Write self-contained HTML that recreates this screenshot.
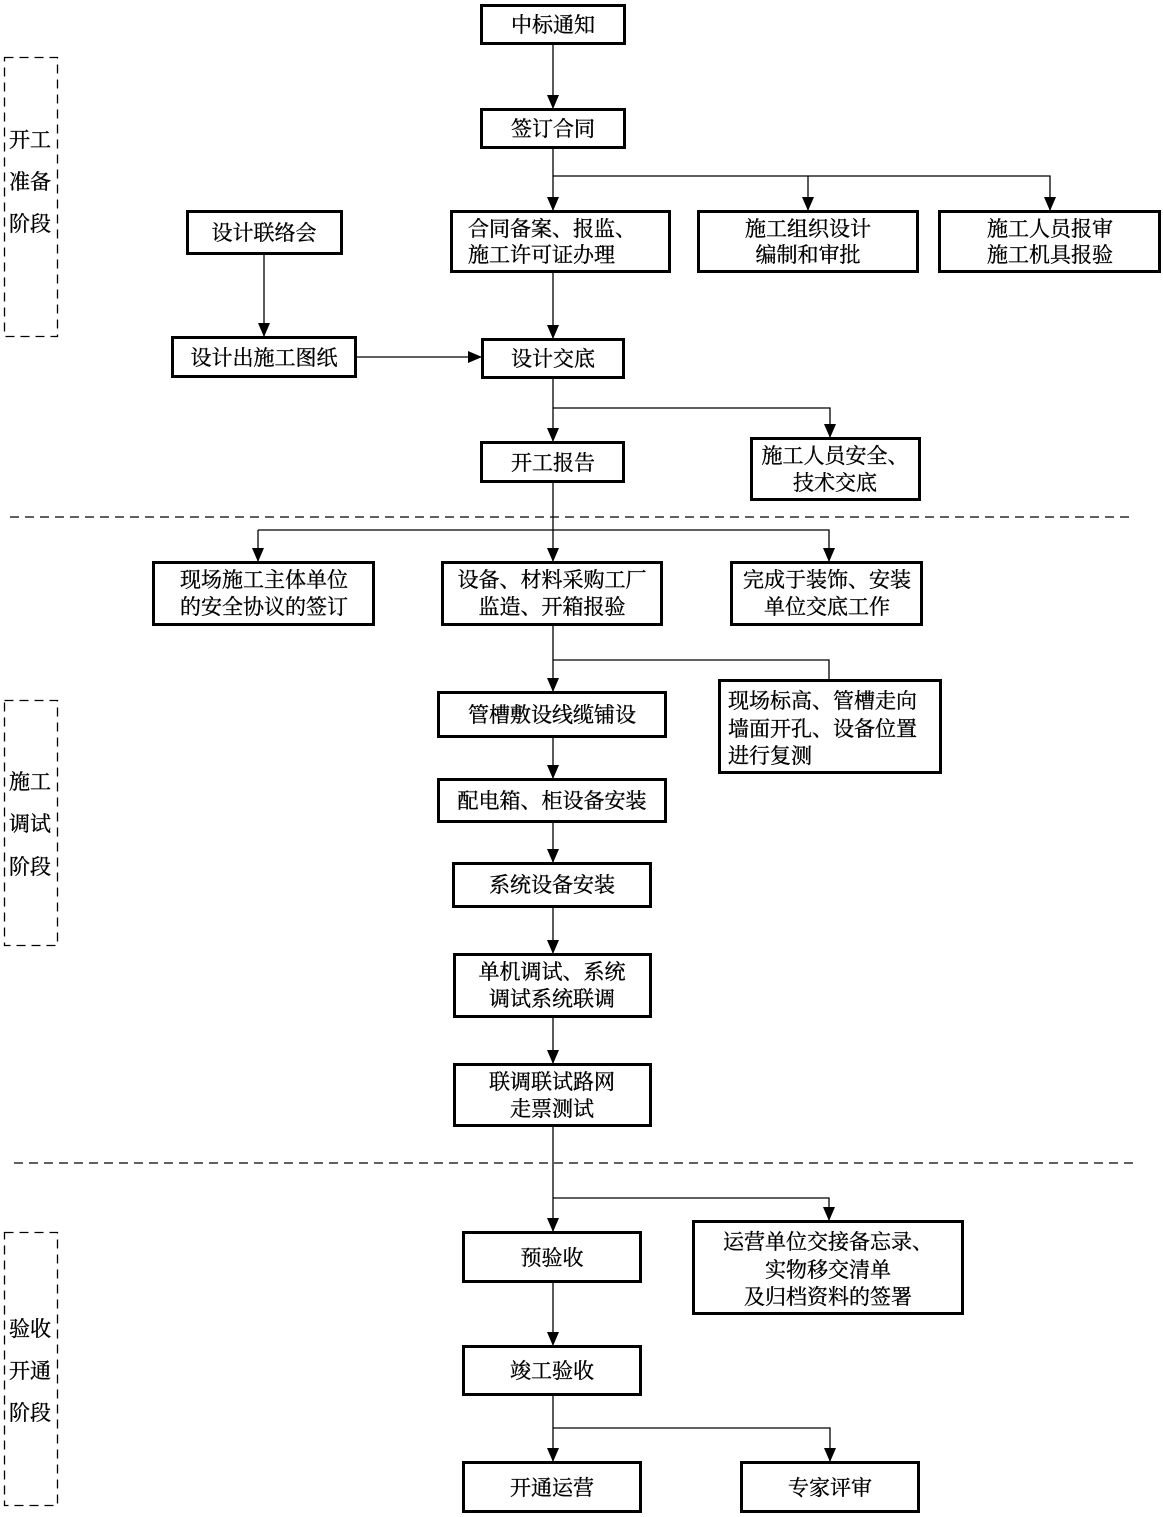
<!DOCTYPE html>
<html><head><meta charset="utf-8"><style>
html,body{margin:0;padding:0;background:#fff;}
svg{display:block;}
text{font-family:"Liberation Serif","Noto Serif CJK SC","Noto Sans CJK SC",serif;font-size:21px;fill:#000;stroke:#000;stroke-width:0.35;}
.b{fill:#fff;stroke:#000;stroke-width:3;}
.l{stroke:#000;stroke-width:1.3;fill:none;}
.d{stroke:#000;stroke-width:1.3;fill:none;stroke-dasharray:9,6;}
</style></head><body>
<svg width="1163" height="1517" viewBox="0 0 1163 1517" xmlns="http://www.w3.org/2000/svg">
<defs>
<marker id="a" markerWidth="14" markerHeight="12" refX="13" refY="6" orient="auto" markerUnits="userSpaceOnUse" viewBox="0 0 14 12"><path d="M0,0 L14,6 L0,12 Z" fill="#000" stroke="none"/></marker>
</defs>

<rect class="d" x="4.5" y="57.5" width="53" height="279"/>
<rect class="d" x="4.5" y="700.5" width="53" height="245"/>
<rect class="d" x="4.5" y="1232.5" width="53" height="273"/>
<text x="9" y="147">开工</text><text x="9" y="189">准备</text><text x="9" y="231">阶段</text>
<text x="9" y="789">施工</text><text x="9" y="831">调试</text><text x="9" y="874">阶段</text>
<text x="9" y="1336">验收</text><text x="9" y="1378">开通</text><text x="9" y="1420">阶段</text>

<line class="d" x1="10" y1="517" x2="1135" y2="517"/>
<line class="d" x1="14" y1="1163" x2="1135" y2="1163"/>

<g class="l">
<line x1="553" y1="44" x2="553" y2="108" marker-end="url(#a)"/>
<line x1="553" y1="148" x2="553" y2="210" marker-end="url(#a)"/>
<polyline points="553,176 1050,176 1050,210" marker-end="url(#a)"/>
<line x1="808" y1="176" x2="808" y2="210" marker-end="url(#a)"/>
<line x1="553" y1="272" x2="553" y2="338" marker-end="url(#a)"/>
<line x1="264" y1="254" x2="264" y2="336" marker-end="url(#a)"/>
<line x1="356" y1="357" x2="481" y2="357" marker-end="url(#a)"/>
<line x1="553" y1="378" x2="553" y2="441" marker-end="url(#a)"/>
<polyline points="553,408 830,408 830,437" marker-end="url(#a)"/>
<line x1="553" y1="482" x2="553" y2="561" marker-end="url(#a)"/>
<polyline points="258,530 829,530 829,561" marker-end="url(#a)"/>
<line x1="258" y1="530" x2="258" y2="561" marker-end="url(#a)"/>
<line x1="553" y1="625" x2="553" y2="691" marker-end="url(#a)"/>
<polyline points="553,660 829,660 829,680"/>
<line x1="553" y1="737" x2="553" y2="778" marker-end="url(#a)"/>
<line x1="553" y1="822" x2="553" y2="862" marker-end="url(#a)"/>
<line x1="553" y1="907" x2="553" y2="953" marker-end="url(#a)"/>
<line x1="553" y1="1017" x2="553" y2="1063" marker-end="url(#a)"/>
<line x1="553" y1="1126" x2="553" y2="1231" marker-end="url(#a)"/>
<polyline points="553,1198 829,1198 829,1220" marker-end="url(#a)"/>
<line x1="553" y1="1282" x2="553" y2="1345" marker-end="url(#a)"/>
<line x1="553" y1="1395" x2="553" y2="1461" marker-end="url(#a)"/>
<polyline points="553,1428 830,1428 830,1461" marker-end="url(#a)"/>
</g>

<rect class="b" x="481.5" y="5.5" width="143" height="38"/>
<text x="553" y="32" text-anchor="middle">中标通知</text>
<rect class="b" x="481.5" y="109.5" width="143" height="38"/>
<text x="553" y="136" text-anchor="middle">签订合同</text>
<rect class="b" x="451.5" y="211.5" width="218" height="60"/>
<text x="468" y="236">合同备案、报监、</text><text x="468" y="262">施工许可证办理</text>
<rect class="b" x="698.5" y="211.5" width="219" height="60"/>
<text x="808" y="236" text-anchor="middle">施工组织设计</text><text x="808" y="262" text-anchor="middle">编制和审批</text>
<rect class="b" x="939.5" y="211.5" width="220" height="60"/>
<text x="1050" y="236" text-anchor="middle">施工人员报审</text><text x="1050" y="262" text-anchor="middle">施工机具报验</text>
<rect class="b" x="187.5" y="211.5" width="154" height="42"/>
<text x="264" y="240" text-anchor="middle">设计联络会</text>
<rect class="b" x="172.5" y="337.5" width="183" height="39"/>
<text x="264" y="365" text-anchor="middle">设计出施工图纸</text>
<rect class="b" x="482.5" y="339.5" width="141" height="38"/>
<text x="553" y="366" text-anchor="middle">设计交底</text>
<rect class="b" x="481.5" y="442.5" width="142" height="39"/>
<text x="553" y="470" text-anchor="middle">开工报告</text>
<rect class="b" x="751.5" y="438.5" width="168" height="61"/>
<text x="835" y="463" text-anchor="middle">施工人员安全、</text><text x="835" y="490" text-anchor="middle">技术交底</text>
<rect class="b" x="153.5" y="562.5" width="220" height="62"/>
<text x="264" y="587" text-anchor="middle">现场施工主体单位</text><text x="264" y="614" text-anchor="middle">的安全协议的签订</text>
<rect class="b" x="442.5" y="562.5" width="219" height="62"/>
<text x="552" y="587" text-anchor="middle">设备、材料采购工厂</text><text x="552" y="614" text-anchor="middle">监造、开箱报验</text>
<rect class="b" x="731.5" y="562.5" width="190" height="62"/>
<text x="827" y="587" text-anchor="middle">完成于装饰、安装</text><text x="827" y="614" text-anchor="middle">单位交底工作</text>
<rect class="b" x="438.5" y="692.5" width="227" height="44"/>
<text x="552" y="722" text-anchor="middle">管槽敷设线缆铺设</text>
<rect class="b" x="719.5" y="680.5" width="221" height="92"/>
<text x="728" y="708">现场标高、管槽走向</text><text x="728" y="736">墙面开孔、设备位置</text><text x="728" y="763">进行复测</text>
<rect class="b" x="438.5" y="779.5" width="227" height="42"/>
<text x="552" y="808" text-anchor="middle">配电箱、柜设备安装</text>
<rect class="b" x="453.5" y="863.5" width="197" height="43"/>
<text x="552" y="892" text-anchor="middle">系统设备安装</text>
<rect class="b" x="454.5" y="954.5" width="196" height="62"/>
<text x="552" y="979" text-anchor="middle">单机调试、系统</text><text x="552" y="1006" text-anchor="middle">调试系统联调</text>
<rect class="b" x="454.5" y="1064.5" width="196" height="61"/>
<text x="552" y="1089" text-anchor="middle">联调联试路网</text><text x="552" y="1116" text-anchor="middle">走票测试</text>
<rect class="b" x="463.5" y="1232.5" width="177" height="49"/>
<text x="552" y="1265" text-anchor="middle">预验收</text>
<rect class="b" x="693.5" y="1221.5" width="269" height="92"/>
<text x="828" y="1249" text-anchor="middle">运营单位交接备忘录、</text><text x="828" y="1277" text-anchor="middle">实物移交清单</text><text x="828" y="1304" text-anchor="middle">及归档资料的签署</text>
<rect class="b" x="463.5" y="1346.5" width="177" height="48"/>
<text x="552" y="1378" text-anchor="middle">竣工验收</text>
<rect class="b" x="463.5" y="1462.5" width="177" height="49"/>
<text x="552" y="1495" text-anchor="middle">开通运营</text>
<rect class="b" x="741.5" y="1462.5" width="177" height="49"/>
<text x="830" y="1495" text-anchor="middle">专家评审</text>
</svg>
</body></html>
